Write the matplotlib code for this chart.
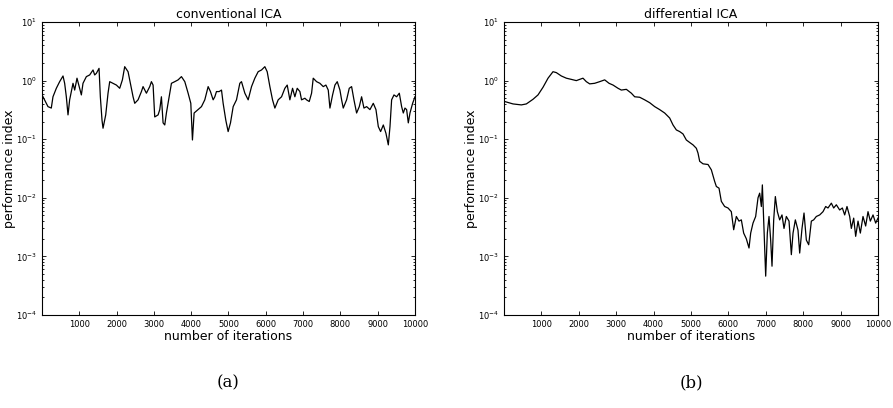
import matplotlib.pyplot as plt

# conventional ICA (left panel)
iter_a = [0, 27, 161, 250, 295, 385, 474, 564, 608, 653, 698, 742, 787, 832, 877, 939,
          1011, 1056, 1100, 1190, 1279, 1369, 1413, 1458, 1530, 1565, 1610, 1637, 1709, 1771,
          1816, 1905, 1995, 2084, 2156, 2218, 2308, 2370, 2442, 2487, 2576, 2666, 2710, 2800,
          2889, 2934, 2979, 3023, 3113, 3158, 3202, 3247, 3292, 3336, 3426, 3471, 3560, 3650,
          3739, 3829, 3918, 3990, 4034, 4079, 4186, 4276, 4365, 4455, 4517, 4589, 4634, 4678,
          4750, 4813, 4857, 4929, 4991, 5054, 5126, 5215, 5304, 5349, 5439, 5528, 5618, 5707,
          5796, 5886, 5975, 6038, 6110, 6181, 6244, 6333, 6423, 6512, 6575, 6646, 6718, 6780,
          6843, 6915, 6959, 7049, 7093, 7165, 7228, 7272, 7362, 7451, 7541, 7612, 7675, 7720,
          7791, 7854, 7916, 7988, 8033, 8077, 8167, 8238, 8301, 8364, 8435, 8507, 8569, 8632,
          8704, 8793, 8882, 8954, 9017, 9079, 9151, 9222, 9285, 9330, 9374, 9437, 9508, 9580,
          9642, 9687, 9732, 9776, 9821, 9866, 9937, 10000]
perf_a = [0.57, 0.53, 0.36, 0.34, 0.53, 0.74, 0.96, 1.20, 0.90, 0.53, 0.26, 0.47, 0.65, 0.90, 0.69, 1.10,
          0.74, 0.57, 0.90, 1.17, 1.25, 1.52, 1.25, 1.33, 1.62, 0.53, 0.21, 0.154, 0.26, 0.61,
          0.96, 0.90, 0.84, 0.74, 1.03, 1.73, 1.42, 0.90, 0.53, 0.41, 0.47, 0.65, 0.79, 0.61,
          0.79, 0.96, 0.84, 0.24, 0.26, 0.32, 0.53, 0.19, 0.175, 0.28, 0.61, 0.90, 0.96, 1.03,
          1.17, 0.96, 0.61, 0.41, 0.097, 0.28, 0.32, 0.36, 0.47, 0.79, 0.65, 0.47, 0.53, 0.65,
          0.65, 0.69, 0.41, 0.21, 0.135, 0.19, 0.36, 0.47, 0.90, 0.96, 0.61, 0.47, 0.79, 1.10,
          1.42, 1.52, 1.73, 1.42, 0.79, 0.47, 0.34, 0.47, 0.53, 0.74, 0.84, 0.47, 0.74, 0.53,
          0.74, 0.65, 0.47, 0.50, 0.47, 0.44, 0.61, 1.10, 0.96, 0.90, 0.79, 0.84, 0.69, 0.34,
          0.57, 0.84, 0.96, 0.69, 0.47, 0.34, 0.47, 0.74, 0.79, 0.47, 0.28, 0.36, 0.53, 0.34,
          0.36, 0.32, 0.41, 0.32, 0.164, 0.135, 0.175, 0.126, 0.080, 0.164, 0.47, 0.57, 0.53, 0.61,
          0.36, 0.28, 0.34, 0.32, 0.19, 0.28, 0.41, 0.53]

# differential ICA (right panel)
iter_b = [18, 241, 463, 597, 775, 909, 1043, 1177, 1310, 1399, 1533, 1667, 1800, 1934, 2023,
          2112, 2201, 2291, 2424, 2558, 2692, 2808, 2915, 3048, 3137, 3271, 3405, 3494, 3628,
          3761, 3895, 4029, 4162, 4296, 4430, 4519, 4608, 4697, 4786, 4875, 4964, 5054, 5143,
          5187, 5232, 5321, 5455, 5544, 5633, 5678, 5749, 5811, 5900, 5989, 6078, 6141, 6212,
          6283, 6346, 6408, 6479, 6551, 6596, 6658, 6729, 6792, 6836, 6881, 6908, 6943, 6997,
          7041, 7086, 7130, 7166, 7211, 7255, 7309, 7371, 7433, 7487, 7549, 7621, 7683, 7728,
          7790, 7861, 7906, 7968, 8022, 8084, 8147, 8218, 8280, 8351, 8441, 8530, 8601, 8663,
          8753, 8815, 8886, 8975, 9047, 9109, 9171, 9243, 9287, 9350, 9403, 9466, 9528, 9599,
          9670, 9733, 9795, 9867, 9938, 10000]
perf_b = [0.44, 0.40, 0.385, 0.40, 0.48, 0.57, 0.77, 1.10, 1.42, 1.37, 1.20, 1.10, 1.05, 1.0, 1.05,
          1.10, 0.96, 0.88, 0.90, 0.96, 1.03, 0.90, 0.84, 0.74, 0.69, 0.71, 0.61, 0.53, 0.52,
          0.47, 0.42, 0.36, 0.32, 0.28, 0.23, 0.175, 0.144, 0.135, 0.123, 0.097, 0.088, 0.080, 0.070,
          0.058, 0.042, 0.038, 0.037, 0.030, 0.019, 0.0156, 0.0146, 0.0087, 0.0071, 0.0067, 0.0058, 0.00285, 0.0048,
          0.0040, 0.0042, 0.0025, 0.0020, 0.00139, 0.0025, 0.0037, 0.0048, 0.010, 0.012, 0.0071, 0.0166, 0.0042, 0.00046,
          0.0025, 0.0048, 0.0019, 0.00068, 0.0042, 0.0105, 0.0058, 0.0042, 0.0051, 0.0030, 0.0048, 0.0040, 0.00107, 0.0025,
          0.0042, 0.0028, 0.00114, 0.0030, 0.0055, 0.0019, 0.00158, 0.0040, 0.0042, 0.0048, 0.0051, 0.0058, 0.0071, 0.0067,
          0.0081, 0.0067, 0.0076, 0.0062, 0.0067, 0.0051, 0.0071, 0.0048, 0.0030, 0.0045, 0.0022, 0.0040, 0.0025, 0.0048,
          0.0033, 0.0058, 0.0040, 0.0051, 0.0037, 0.0045]

xticks = [1000, 2000, 3000, 4000, 5000, 6000, 7000, 8000, 9000, 10000]

fig = plt.figure(figsize=(8.93, 4.08), dpi=100)
ax1 = fig.add_axes([0.047, 0.228, 0.4177, 0.718])
ax2 = fig.add_axes([0.5644, 0.228, 0.4188, 0.718])

panels = [(ax1, iter_a, perf_a, "conventional ICA", "(a)"),
          (ax2, iter_b, perf_b, "differential ICA", "(b)")]

for ax, xs, ys, title, tag in panels:
    ax.semilogy(xs, ys, color="black", linewidth=0.9)
    ax.set_xlim(0, 10000)
    ax.set_ylim(1e-4, 1e1)
    ax.set_xticks(xticks)
    ax.set_xticklabels([str(t) for t in xticks])
    ax.tick_params(axis="both", which="both", direction="in", top=True, right=True,
                   labelsize=6, length=3, width=0.6)
    ax.tick_params(axis="both", which="minor", length=1.5)
    ax.set_title(title, fontsize=9, pad=3)
    ax.set_xlabel("number of iterations", fontsize=9, labelpad=1)
    ax.set_ylabel("performance index", fontsize=9, labelpad=0)
    for sp in ax.spines.values():
        sp.set_linewidth(0.8)
    ax.text(0.5, -0.233, tag, transform=ax.transAxes, ha="center", va="center",
            fontsize=12, fontfamily="serif")

fig.savefig("out.png", dpi=100)
